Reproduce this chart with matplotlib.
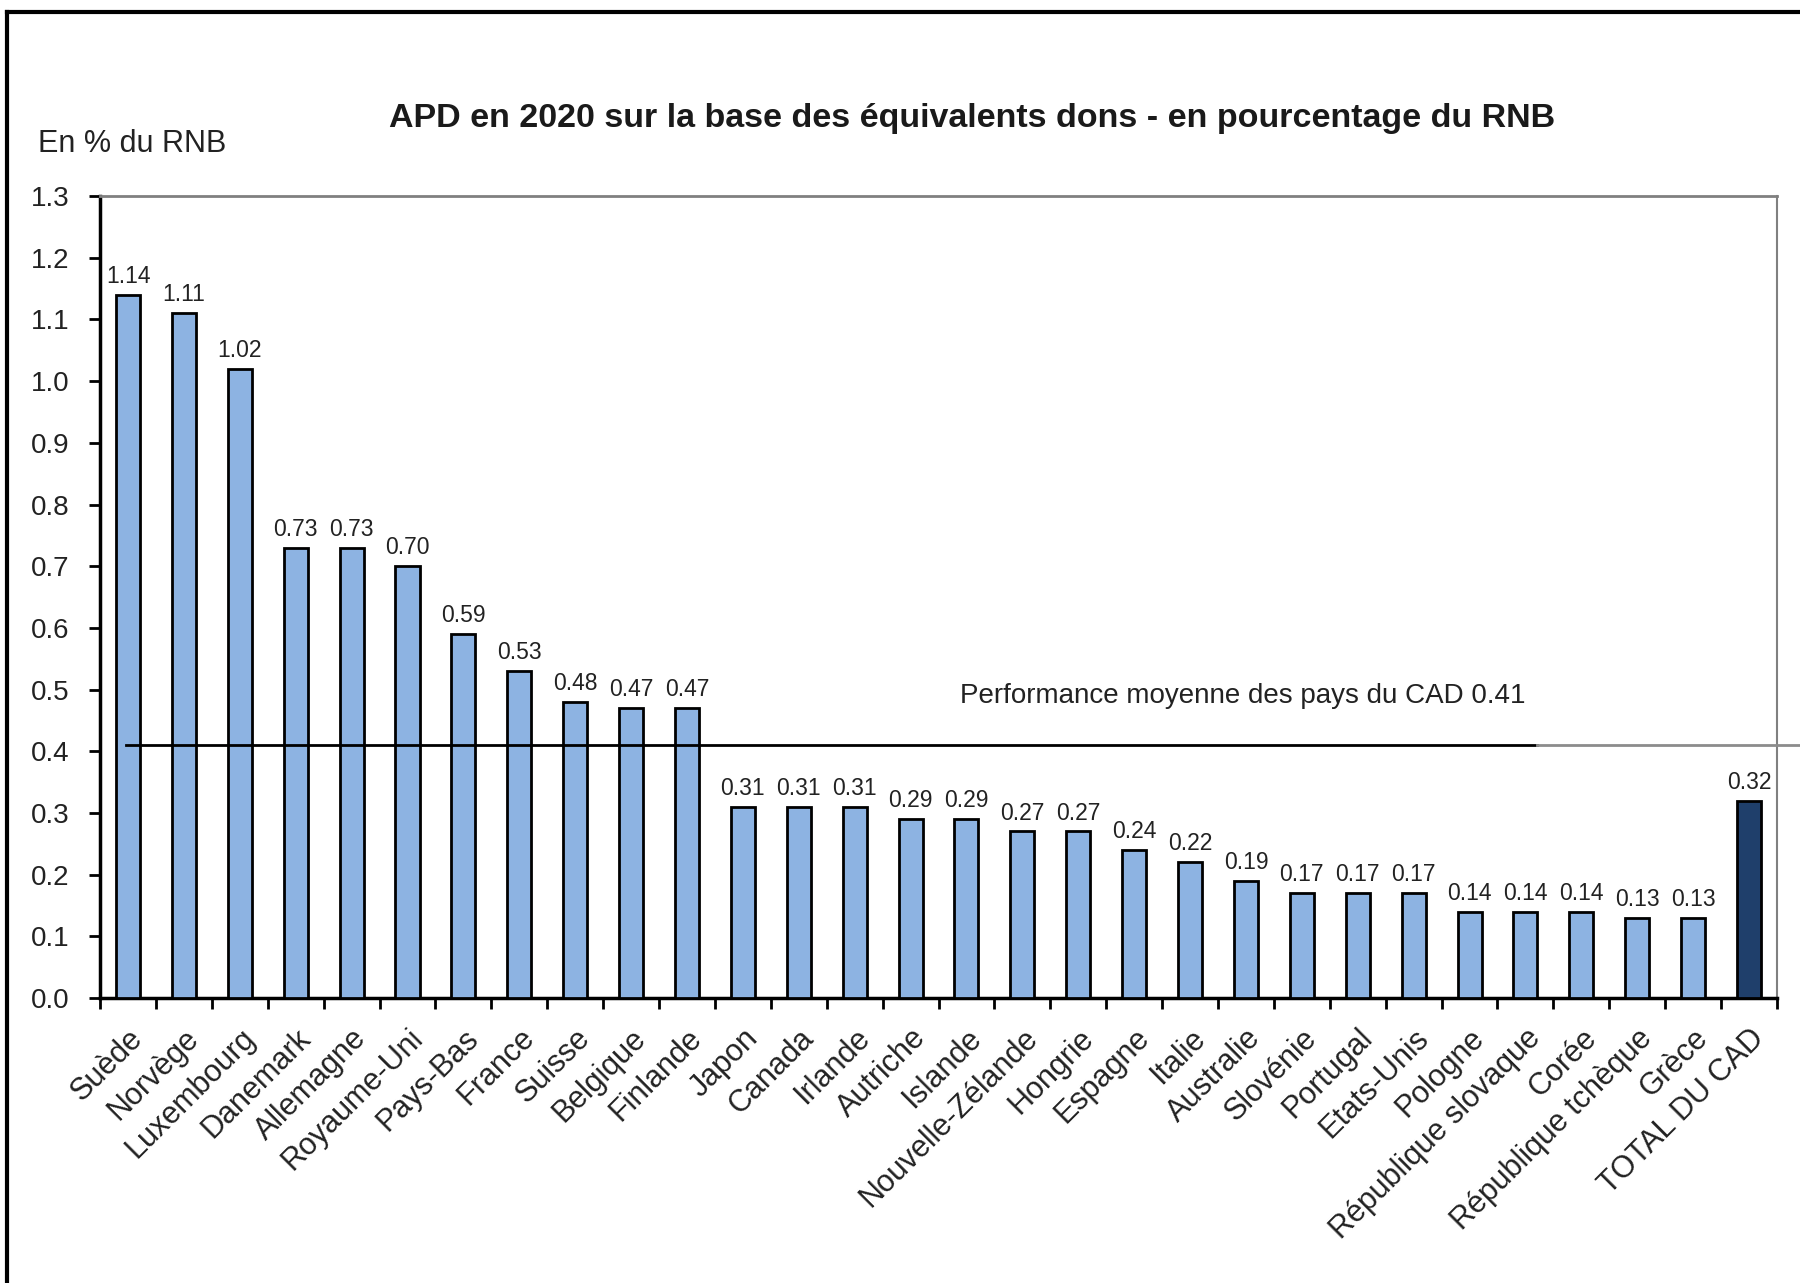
import matplotlib
matplotlib.use("Agg")
import matplotlib.pyplot as plt
import matplotlib.transforms as mtransforms
from matplotlib.lines import Line2D

plt.rcParams['font.family'] = ['Liberation Sans', 'DejaVu Sans']

# data
pays = ["Suède", "Norvège", "Luxembourg", "Danemark", "Allemagne", "Royaume-Uni",
        "Pays-Bas", "France", "Suisse", "Belgique", "Finlande", "Japon", "Canada",
        "Irlande", "Autriche", "Islande", "Nouvelle-Zélande", "Hongrie", "Espagne",
        "Italie", "Australie", "Slovénie", "Portugal", "Etats-Unis", "Pologne",
        "République slovaque", "Corée", "République tchèque", "Grèce", "TOTAL DU CAD"]
apd = [1.14, 1.11, 1.02, 0.73, 0.73, 0.70, 0.59, 0.53, 0.48, 0.47, 0.47, 0.31, 0.31,
       0.31, 0.29, 0.29, 0.27, 0.27, 0.24, 0.22, 0.19, 0.17, 0.17, 0.17, 0.14, 0.14,
       0.14, 0.13, 0.13, 0.32]
moyenne = 0.41
yticks = [0.0, 0.1, 0.2, 0.3, 0.4, 0.5, 0.6, 0.7, 0.8, 0.9, 1.0, 1.1, 1.2, 1.3]

light = "#8db3e2"
dark = "#1f3f6b"
colors = [light] * (len(pays) - 1) + [dark]
txt = "#222222"

fig = plt.figure(figsize=(18, 12.83), dpi=100)
ax = fig.add_axes([0.0556, 0.2221, 0.9316, 0.6251])

x = list(range(len(pays)))
ax.bar(x, apd, width=0.43, color=colors, edgecolor="black", linewidth=2, zorder=3)

for xi, v in zip(x, apd):
    ax.annotate(f"{v:.2f}", (xi, v), xytext=(0, 5), textcoords="offset points",
                ha="center", va="bottom", fontsize=16.5, color=txt)

ax.set_xlim(-0.5, len(pays) - 0.5)
ax.set_ylim(0, 1.3)
ax.set_yticks(yticks)
ax.set_yticklabels([f"{t:.1f}" for t in yticks], fontsize=20, color=txt)

# ticks between categories, labels under the bars
ax.set_xticks([i - 0.5 for i in range(len(pays) + 1)])
ax.set_xticklabels([])
ax.set_xticks(x, minor=True)
ax.set_xticklabels(pays, minor=True, rotation=45, ha="right", rotation_mode="anchor",
                   fontsize=22, color=txt)
ax.tick_params(axis="x", which="minor", length=0, pad=18)
ax.tick_params(axis="x", which="major", length=8, width=2, direction="out")
ax.tick_params(axis="y", length=8, width=2, direction="out", pad=14)

ax.spines["left"].set_linewidth(2.5)
ax.spines["bottom"].set_linewidth(2.5)
ax.spines["top"].set_color("#808080")
ax.spines["right"].set_color("#808080")
ax.spines["top"].set_linewidth(2)
ax.spines["right"].set_linewidth(1.5)

# average line
ax.axhline(moyenne, xmin=0.0155, xmax=0.857, color="black", linewidth=2, zorder=4)
ax.axhline(moyenne, xmin=0.857, xmax=1.014, color="#8c8c8c", linewidth=2,
           zorder=4, clip_on=False)
trans = mtransforms.blended_transform_factory(ax.transAxes, ax.transData)
ax.text(0.6816, moyenne + 0.08, "Performance moyenne des pays du CAD 0.41",
        transform=trans, fontsize=20, ha="center", va="center", color=txt)

fig.text(0.54, 0.9075, "APD en 2020 sur la base des équivalents dons - en pourcentage du RNB",
         ha="center", va="center", fontsize=24.5, fontweight="bold", color="#1a1a1a")
fig.text(0.021, 0.888, "En % du RNB", ha="left", va="center", fontsize=22, color=txt)

# outer frame (top and left visible)
fig.add_artist(Line2D([0.004, 0.004], [0, 0.9906], transform=fig.transFigure,
                      color="black", linewidth=3))
fig.add_artist(Line2D([0.004, 1.0], [0.9906, 0.9906], transform=fig.transFigure,
                      color="black", linewidth=3))

fig.savefig("out.png", dpi=100)
